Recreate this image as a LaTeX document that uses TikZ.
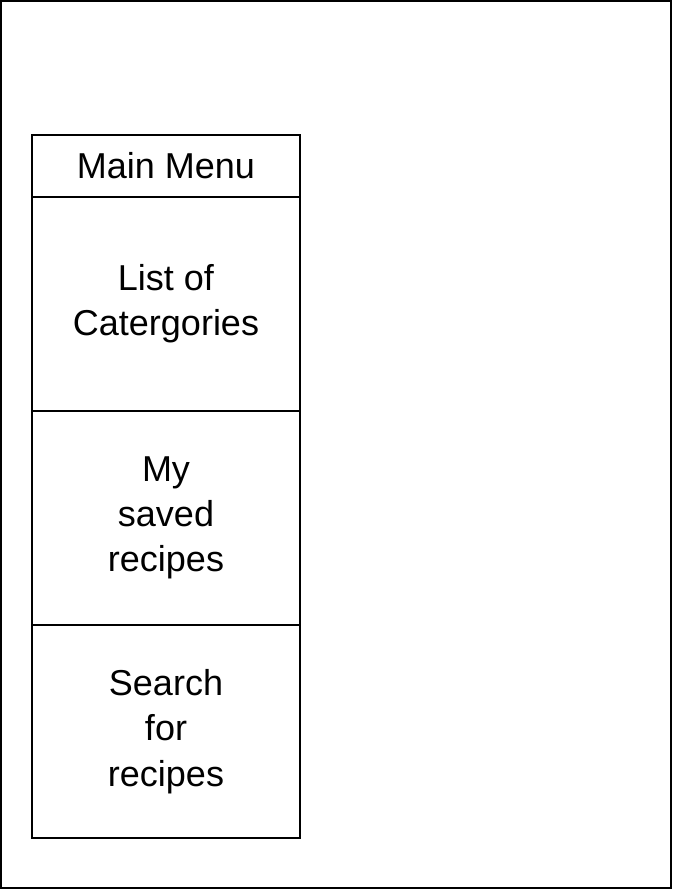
\documentclass[tikz,border=0pt]{standalone}
\usepackage{fontspec}
\setmainfont{Liberation Sans}
\begin{document}
\begin{tikzpicture}[x=0.75pt,y=-0.75pt,
  cell/.style={draw=black, line width=1.2pt, rectangle, inner sep=0pt,
    minimum width=201pt, align=center,
    font=\fontsize{27}{34}\selectfont},
  frame/.style={draw=black, line width=1.2pt}]
\useasboundingbox (0,0) rectangle (672,889);
\draw[frame] (0.8,0.8) rectangle (671.2,888.2);
\node[cell, minimum height=46.5pt] (title) at (166,166) {Main Menu};
\node[cell, minimum height=160.5pt] (cat) at (166,304) {List of\\Catergories};
\node[cell, minimum height=160.5pt] (saved) at (166,518) {My\\saved\\recipes};
\node[cell, minimum height=159.75pt] (search) at (166,731.5) {Search\\for\\recipes};
\end{tikzpicture}
\end{document}
